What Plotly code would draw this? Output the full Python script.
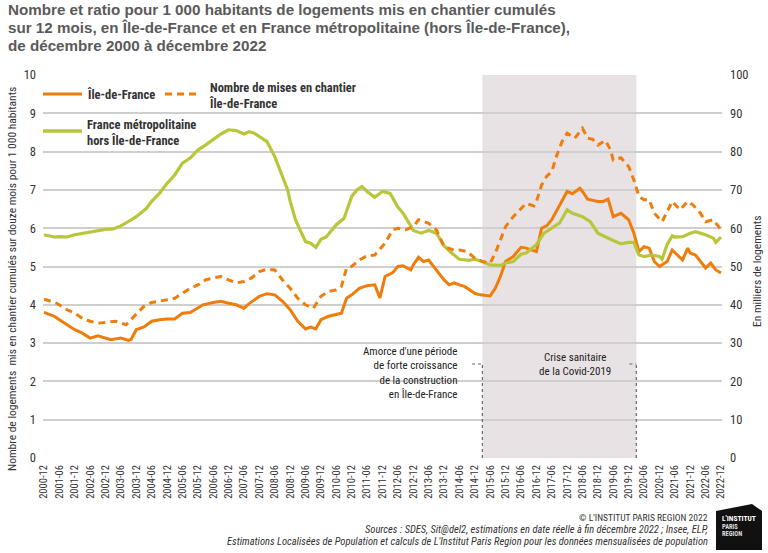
import plotly.graph_objects as go

# ---------------- data ----------------
green_dates = ["2000-12","2001-04","2001-06","2001-09","2001-12","2002-06","2002-12","2003-03","2003-06","2003-10",
               "2003-12","2004-04","2004-06","2004-09","2004-12","2005-03","2005-06","2005-09","2005-12","2006-03",
               "2006-06","2006-09","2006-12","2007-03","2007-06","2007-08","2007-10","2007-12","2008-03","2008-06",
               "2008-08","2008-11","2008-12","2009-02","2009-06","2009-08","2009-10","2009-12","2010-02","2010-06",
               "2010-09","2010-12","2011-02","2011-04","2011-06","2011-09","2011-12","2012-03","2012-06","2012-08",
               "2012-11","2012-12","2013-03","2013-06","2013-09","2013-12","2014-03","2014-06","2014-10","2014-12",
               "2015-03","2015-06","2015-10","2015-12","2016-03","2016-06","2016-08","2016-12","2017-03","2017-06",
               "2017-09","2017-12","2018-02","2018-06","2018-09","2018-12","2019-03","2019-06","2019-09","2019-12",
               "2020-02","2020-04","2020-06","2020-09","2020-12","2021-01","2021-03","2021-05","2021-06","2021-09",
               "2021-12","2022-02","2022-06","2022-09","2022-10","2022-12"]
green_ratio = [5.83,5.77,5.78,5.77,5.83,5.91,5.97,5.98,6.06,6.22,
               6.30,6.52,6.70,6.91,7.17,7.39,7.70,7.83,8.04,8.17,
               8.32,8.46,8.57,8.55,8.46,8.52,8.48,8.39,8.26,7.87,
               7.52,7.00,6.70,6.22,5.65,5.61,5.50,5.71,5.77,6.09,
               6.26,6.83,7.00,7.09,6.96,6.81,6.96,6.91,6.55,6.39,
               6.06,5.94,5.87,5.94,5.87,5.54,5.35,5.19,5.16,5.19,
               5.13,5.04,5.03,5.09,5.13,5.32,5.35,5.57,5.87,6.00,
               6.13,6.48,6.39,6.30,6.17,5.87,5.77,5.68,5.59,5.63,
               5.63,5.30,5.26,5.30,5.26,5.19,5.57,5.80,5.77,5.78,
               5.87,5.91,5.83,5.74,5.63,5.77]

idf_dates = ["2000-12","2001-04","2001-06","2001-09","2001-12","2002-03","2002-06","2002-09","2002-12","2003-02",
             "2003-06","2003-09","2003-10","2003-12","2004-03","2004-06","2004-09","2004-12","2005-03","2005-06",
             "2005-09","2005-12","2006-02","2006-06","2006-09","2006-12","2007-03","2007-06","2007-08","2007-12",
             "2008-03","2008-06","2008-09","2008-12","2009-03","2009-06","2009-08","2009-10","2009-12","2010-03",
             "2010-06","2010-08","2010-10","2010-12","2011-03","2011-06","2011-09","2011-11","2012-01","2012-04",
             "2012-06","2012-08","2012-11","2012-12","2013-02","2013-04","2013-06","2013-08","2013-12","2014-02",
             "2014-04","2014-06","2014-08","2014-12","2015-02","2015-06","2015-08","2015-10","2015-12","2016-03",
             "2016-06","2016-08","2016-12","2017-02","2017-04","2017-06","2017-08","2017-10","2017-12","2018-02",
             "2018-05","2018-06","2018-08","2018-12","2019-02","2019-04","2019-06","2019-09","2019-12","2020-02",
             "2020-04","2020-06","2020-08","2020-10","2020-12","2021-03","2021-05","2021-07","2021-09","2021-11",
             "2021-12","2022-02","2022-06","2022-08","2022-10","2022-12"]
idf_ratio = [3.80,3.70,3.61,3.48,3.35,3.26,3.13,3.19,3.13,3.09,
             3.13,3.07,3.10,3.35,3.42,3.57,3.61,3.63,3.63,3.78,
             3.80,3.91,4.00,4.06,4.09,4.04,4.00,3.91,4.03,4.22,
             4.29,4.26,4.09,3.87,3.57,3.37,3.42,3.37,3.61,3.70,
             3.74,3.78,4.17,4.26,4.43,4.50,4.52,4.18,4.74,4.84,
             5.00,5.02,4.91,5.04,5.24,5.13,5.17,5.00,4.65,4.52,
             4.57,4.52,4.48,4.30,4.26,4.23,4.43,4.74,5.13,5.26,
             5.50,5.48,5.39,6.00,6.06,6.22,6.48,6.74,6.96,6.90,
             7.04,6.96,6.76,6.70,6.70,6.76,6.30,6.39,6.22,5.87,
             5.39,5.52,5.48,5.13,5.00,5.13,5.43,5.30,5.17,5.48,
             5.35,5.30,4.96,5.09,4.91,4.83]

starts_dates = ["2000-12","2001-05","2001-09","2001-12","2002-03","2002-06","2002-09","2002-12","2003-04","2003-08",
                "2003-10","2003-12","2004-03","2004-06","2004-09","2004-12","2005-03","2005-06","2005-09","2005-12",
                "2006-03","2006-06","2006-09","2006-12","2007-03","2007-06","2007-09","2007-12","2008-03","2008-06",
                "2008-09","2008-12","2009-03","2009-06","2009-09","2009-12","2010-03","2010-06","2010-08","2010-10",
                "2010-12","2011-03","2011-06","2011-09","2011-11","2012-01","2012-04","2012-06","2012-09","2012-12",
                "2013-02","2013-06","2013-09","2013-12","2014-04","2014-06","2014-09","2014-12","2015-03","2015-06",
                "2015-08","2015-10","2015-12","2016-03","2016-06","2016-08","2016-11","2016-12","2017-02","2017-04",
                "2017-06","2017-08","2017-10","2017-12","2018-03","2018-06","2018-08","2018-10","2018-12","2019-03",
                "2019-05","2019-06","2019-09","2019-12","2020-02","2020-04","2020-06","2020-08","2020-10","2021-01",
                "2021-03","2021-05","2021-08","2021-11","2022-01","2022-04","2022-06","2022-09","2022-12"]
starts_k = [41.5,40.4,38.7,37.8,36.5,35.7,35.2,35.5,35.7,34.8,
            36.1,37.4,39.6,40.6,40.9,41.3,41.7,43.0,44.3,45.2,
            46.5,47.0,47.4,46.5,45.7,46.1,47.0,48.7,49.3,49.1,
            46.5,44.3,41.7,40.0,39.1,42.2,43.5,43.9,44.8,49.6,
            50.0,51.7,52.8,53.0,54.5,56.1,59.6,60.0,59.6,60.4,
            62.2,61.3,59.6,55.2,54.2,54.3,53.9,52.2,51.3,50.9,
            53.5,57.0,60.4,63.0,65.2,66.5,65.8,67.0,71.3,73.5,
            74.8,79.1,82.6,84.8,83.5,86.1,83.5,83.2,81.7,82.9,
            80.4,77.8,78.4,76.1,72.6,68.3,67.4,67.4,63.9,61.7,
            64.3,67.0,64.8,67.0,66.1,63.9,61.7,62.2,59.6]

series_names = ["Île-de-France", "Nombre de mises en chantier<br>Île-de-France",
                "France métropolitaine<br>hors Île-de-France"]
shade_period = ["2015-03-01", "2020-03-01"]
left_ticks = list(range(0, 11))
right_ticks = list(range(0, 101, 10))
title_lines = ["Nombre et ratio pour 1 000 habitants de logements mis en chantier cumulés",
               "sur 12 mois, en Île-de-France et en France métropolitaine (hors Île-de-France),",
               "de décembre 2000 à décembre 2022"]
amorce_text = "Amorce d'une période<br>de forte croissance<br>de la construction<br>en Île-de-France"
covid_text = "Crise sanitaire<br>de la Covid-2019"

# ---------------- styles ----------------
ORANGE = "#EF7D0B"
GREEN = "#BAC63A"
NARROW = "Roboto Condensed, Roboto, sans-serif"
TXT = "#333333"

W, H = 768, 553
L, R, T, B = 43, 722, 75, 458
def px(xp):
    return (xp - L) / (R - L)
def py(yp):
    return (B - yp) / (B - T)

fig = go.Figure()
fig.add_trace(go.Scatter(x=idf_dates, y=idf_ratio, mode="lines", name=series_names[0],
                         line=dict(color=ORANGE, width=3)))
fig.add_trace(go.Scatter(x=starts_dates, y=starts_k, mode="lines", name=series_names[1],
                         line=dict(color=ORANGE, width=3, dash="7px,5px"), yaxis="y2"))
fig.add_trace(go.Scatter(x=green_dates, y=green_ratio, mode="lines", name=series_names[2],
                         line=dict(color=GREEN, width=3.2)))

fig.update_layout(
    width=W, height=H,
    paper_bgcolor="white", plot_bgcolor="white",
    margin=dict(l=L, r=W - R, t=T, b=H - B, autoexpand=False),
    showlegend=False,
    xaxis=dict(type="date", range=["2000-11-19", "2022-12-13"], tickformat="%Y-%m",
               dtick="M6", tick0="2000-12-01", tickangle=-90, showgrid=False, zeroline=False,
               showline=False, ticks="", ticklabelstandoff=4,
               tickfont=dict(family=NARROW, size=10.5, color=TXT)),
    yaxis=dict(range=[0, 10], tickvals=left_ticks, showgrid=True, gridcolor="#CFCFCF", gridwidth=1.6,
               zeroline=False, showline=False, ticks="", ticklabelstandoff=6,
               tickfont=dict(family=NARROW, size=12.5, color=TXT)),
    yaxis2=dict(range=[0, 100], tickvals=right_ticks, overlaying="y", side="right", showgrid=False,
                zeroline=False, showline=False, ticks="", ticklabelstandoff=7,
                tickfont=dict(family=NARROW, size=12.5, color=TXT)),
)

# shaded period
fig.add_shape(type="rect", xref="x", yref="paper", x0=shade_period[0], x1=shade_period[1], y0=0, y1=1,
              fillcolor="#E8E2E5", line_width=0, layer="below")
# dotted connectors
dot = dict(color="#666666", width=1.2, dash="dot")
fig.add_shape(type="line", xref="x", yref="paper", x0="2014-10-28", x1=shade_period[0], y0=py(364), y1=py(364), line=dot)
fig.add_shape(type="line", xref="x", yref="paper", x0=shade_period[0], x1=shade_period[0], y0=0, y1=py(364), line=dot)
fig.add_shape(type="line", xref="x", yref="paper", x0="2019-12-10", x1=shade_period[1], y0=py(364), y1=py(364), line=dot)
fig.add_shape(type="line", xref="x", yref="paper", x0=shade_period[1], x1=shade_period[1], y0=0, y1=py(364), line=dot)

ann = []
def text(t, xp, yp, xa="left", ya="middle", size=12, color=TXT, bold=False, family=NARROW, angle=0, align=None):
    d = dict(text=t, x=px(xp), y=py(yp), xref="paper", yref="paper", xanchor=xa, yanchor=ya,
             showarrow=False, textangle=angle,
             font=dict(family=family, size=size, color=color, weight="bold" if bold else "normal"))
    if align:
        d["align"] = align
    ann.append(d)

# custom legend
fig.add_shape(type="line", xref="paper", yref="paper", x0=px(43), x1=px(82), y0=py(94), y1=py(94),
              line=dict(color=ORANGE, width=3))
fig.add_shape(type="line", xref="paper", yref="paper", x0=px(165), x1=px(198), y0=py(94), y1=py(94),
              line=dict(color=ORANGE, width=3, dash="7px,5px"))
fig.add_shape(type="line", xref="paper", yref="paper", x0=px(43), x1=px(82), y0=py(131), y1=py(131),
              line=dict(color=GREEN, width=3.5))
text(series_names[0], 85, 94.5, size=12.5, bold=True)
text(series_names[1], 207, 95, size=12.5, bold=True, align="left")
text(series_names[2], 85, 132, size=12.5, bold=True, align="left")

# title
for i, t in enumerate(title_lines):
    text(t, 6, 10 + 17.5 * i, size=15.2, bold=True, color="#5A5A5A", family="Liberation Sans, Arial, sans-serif")

# axis titles
text("Nombre de logements  mis en chantier cumulés sur douze mois pour 1 000 habitants", 12, 279,
     xa="center", size=11.5, angle=-90)
text("En milliers de logements", 757, 272, xa="center", size=11.5, angle=-90)

# period annotations
text(amorce_text, 459, 343, xa="right", ya="top", size=11, color="#222222", align="right")
text(covid_text, 575, 349, xa="center", ya="top", size=11, color="#222222", align="center")

# footer
text("© L'INSTITUT PARIS REGION 2022", 710, 517, xa="right", size=9.5)
text("<i>Sources : SDES, Sit@del2, estimations en date réelle à fin décembre 2022 ; Insee, ELP,</i>",
     710, 529, xa="right", size=10.5)
text("<i>Estimations Localisées de Population et calculs de L'Institut Paris Region pour les données mensualisées de population</i>",
     710, 541, xa="right", size=10.5)

# logo
fig.add_shape(type="path", xref="paper", yref="paper",
              path=f"M {px(716)},{py(511)} L {px(752)},{py(504)} L {px(762)},{py(511)} L {px(762)},{py(550)} L {px(716)},{py(550)} Z",
              fillcolor="#111111", line_width=0)
text("L'INSTITUT", 720, 518, size=7.5, bold=True, color="white")
text("PARIS", 720, 527, size=6.5, bold=True, color="#DDDDDD")
text("REGION", 720, 534, size=6.5, bold=True, color="#DDDDDD")

fig.update_layout(annotations=ann)

fig.write_html("out.html", config={"displayModeBar": False},
               post_script="document.body.style.margin='0px';")
